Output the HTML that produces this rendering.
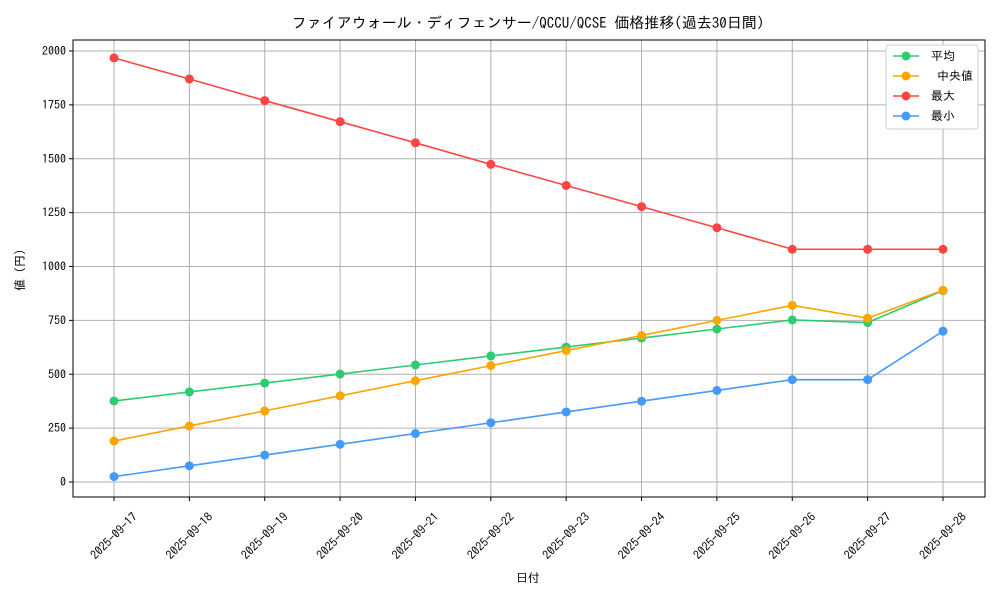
<!DOCTYPE html>
<html><head><meta charset="utf-8">
<style>
html,body{margin:0;padding:0;background:#fff;}
svg text{font-family:"IPAGothic","Liberation Sans","Noto Sans CJK JP",sans-serif;fill:#000;}
</style></head>
<body>
<svg id="chart" width="1000" height="600" viewBox="0 0 1000 600" xmlns="http://www.w3.org/2000/svg">
<rect width="1000" height="600" fill="#fff"/>
<text x="528" y="28" font-size="15" text-anchor="middle">ファイアウォール・ディフェンサー/QCCU/QCSE 価格推移(過去30日間)</text>
<g id="grid"></g>
<rect x="73" y="40" width="912" height="457" fill="none" stroke="#000" stroke-width="1"/>
<g id="axes"></g>
<g id="series"></g>
<text x="528" y="582" font-size="12" text-anchor="middle">日付</text>
<text transform="translate(24,270) rotate(-90)" font-size="12" text-anchor="middle">値 (円)</text>
<g id="legend"></g>
</svg>
<script>
const categories=["2025-09-17","2025-09-18","2025-09-19","2025-09-20","2025-09-21","2025-09-22","2025-09-23","2025-09-24","2025-09-25","2025-09-26","2025-09-27","2025-09-28"];
const avgValues=[376,418,459,501,543,585,626,668,710,752,740,888];
const medianValues=[190,260,330,400,470,540,610,680,750,820,760,890];
const maxValues=[1968,1870,1770,1672,1574,1474,1376,1278,1180,1080,1080,1080];
const minValues=[25,75,125,175,225,275,325,375,425,475,475,700];
const yTicks=[0,250,500,750,1000,1250,1500,1750,2000];
const seriesNames=["平均"," 中央値","最大","最小"];

const NS="http://www.w3.org/2000/svg";
const x0=114,x1=943,y0=482,y1=51;
function xs(i){return x0+(x1-x0)*i/(categories.length-1);}
function ys(v){return y0+(y1-y0)*v/2000;}
function mk(tag,attrs,parent){const e=document.createElementNS(NS,tag);for(const k in attrs)e.setAttribute(k,attrs[k]);parent.appendChild(e);return e;}
const grid=document.getElementById('grid'),axes=document.getElementById('axes'),ser=document.getElementById('series'),leg=document.getElementById('legend');
yTicks.forEach(t=>{
  const y=ys(t);
  const g=mk('line',{x1:73,x2:985,y1:y,y2:y,stroke:'#b0b0b0','stroke-width':1},grid);
  
  
  mk('line',{x1:69,x2:73,y1:y,y2:y,stroke:'#000'},axes);
  const tx=mk('text',{x:66,y:y+4,'font-size':12,'text-anchor':'end'},axes);
  tx.textContent=t;
  
  
});
categories.forEach((c,i)=>{
  const x=xs(i);
  const g=mk('line',{x1:x,x2:x,y1:40,y2:497,stroke:'#b0b0b0','stroke-width':1},grid);
  
  
  mk('line',{x1:x,x2:x,y1:497,y2:501,stroke:'#000'},axes);
  const tx=mk('text',{x:0,y:4,'font-size':12,'text-anchor':'middle',transform:`translate(${x},${536}) rotate(-45)`},axes);
  tx.textContent=c;
  
  
});
const series=[[avgValues,'#2ecc71','average'],[medianValues,'#ffa500','median'],[maxValues,'#ff4444','max'],[minValues,'#4499ff','min']];
series.forEach(([vals,col,nm])=>{
  const p=mk('polyline',{points:vals.map((v,i)=>xs(i)+','+ys(v)).join(' '),fill:'none',stroke:col,'stroke-width':1.6},ser);
  
  
  vals.forEach((v,i)=>{
    const c=mk('circle',{cx:xs(i),cy:ys(v),r:4.5,fill:col},ser);
    
    
  });
});
mk('rect',{x:886,y:45,width:92,height:84,fill:'#fff',stroke:'#ccc',rx:3},leg);
series.forEach(([vals,col,nm],i)=>{
  const y=56+i*20;
  const g=mk('g',{},leg);
  
  
  mk('line',{x1:893,x2:919,y1:y,y2:y,stroke:col,'stroke-width':1.6},g);
  mk('circle',{cx:906,cy:y,r:4.5,fill:col},g);
  const t=mk('text',{x:931,y:y+4,'font-size':12,'xml:space':'preserve'},g);
  t.setAttribute('style','white-space:pre');
  t.textContent=seriesNames[i];
});
</script>
</body></html>
